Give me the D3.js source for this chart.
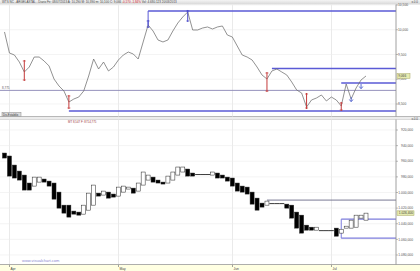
<!DOCTYPE html>
<html>
<head>
<meta charset="utf-8">
<script src="https://cdn.jsdelivr.net/npm/d3@7/dist/d3.min.js"></script>
<style>
  html, body { margin: 0; padding: 0; background: #fff; }
  svg { display: block; font-family: "Liberation Sans", Arial, sans-serif; }
</style>
</head>
<body>
<svg id="chart" width="420" height="271"></svg>
<script>
// ---- data ----
const months = ["Apr", "May", "Jun", "Jul"]
const monthStart = [1, 23, 46, 66]

// upper panel: daily close
const closes = [
  9.955, 9.530, 9.490, 9.348, 9.146, 9.247, 9.449, 9.449, 9.369, 9.268,
  9.005, 8.864, 8.763, 8.540, 8.601, 8.641, 8.763, 9.066, 9.409, 9.207,
  9.348, 9.167, 9.247, 9.389, 9.490, 9.550, 9.510, 9.409, 9.753, 10.096,
  9.975, 9.793, 9.753, 9.793, 9.975, 10.136, 10.258, 10.359, 9.995, 9.995,
  10.035, 10.056, 10.015, 10.056, 10.076, 9.894, 9.854, 9.672, 9.490, 9.449,
  9.389, 9.247, 9.086, 9.005, 9.167, 9.207, 9.146, 9.086, 8.944, 8.783,
  8.722, 8.439, 8.581, 8.621, 8.682, 8.561, 8.641, 8.581, 8.460, 8.904,
  8.601, 8.823, 8.985, 9.066
]
const topTicks = [8.5, 9.0, 9.5, 10.0, 10.5]
// horizontal levels: value, first bar, bracket end value
const topLevels = [
  {v: 10.379, from: 29, to: 10.096},
  {v: 8.359, from: 13, to: null},
  {v: 9.217, from: 54, to: null},
  {v: 8.924, from: 68, to: null}
]
const supportLevel = 8.775
const redMarks = [[4, 9.389, 8.965], [13, 8.682, 8.399], [53, 9.146, 8.742], [61, 8.722, 8.399], [68, 8.540, 8.359]]
const blueMarks = [[29, 10.197, 10.035], [37, 10.399, 10.157]]
const arrowMarks = [[70, 8.581], [72, 8.843]]

// lower panel: open / close
const opens = [
  949.5, 953.3, 964.9, 972.6, 977.7, 987.9, 991.8, 986.7, 982.8, 985.4,
  987.9, 999.5, 1016.2, 1016.2, 1023.8, 1025.1, 1027.7, 1022.6, 1016.2, 1000.8,
  1003.3, 999.5, 1002.0, 1004.6, 999.5, 995.6, 994.4, 998.2, 990.5, 984.1,
  980.3, 984.1, 986.7, 987.9, 984.1, 977.7, 973.8, 970.0, 975.1, 977.0,
  977.0, 977.0, 977.7, 975.1, 977.7, 980.3, 981.5, 987.9, 991.8, 993.1,
  999.5, 1007.2, 1013.6, 1016.2, 1014.2, 1014.2, 1014.2, 1014.9, 1016.2, 1025.1,
  1029.0, 1041.8, 1044.4, 1048.2, 1048.8, 1048.8, 1048.8, 1045.6, 1052.0, 1045.6,
  1045.6, 1044.4, 1032.8, 1035.4
]
const closesLow = [
  955.9, 979.0, 981.5, 984.1, 996.9, 996.9, 980.3, 980.3, 986.7, 991.8,
  1008.5, 1020.0, 1026.4, 1031.5, 1027.7, 1029.0, 1016.2, 1000.8, 990.5, 1004.6,
  998.2, 1007.2, 1005.9, 993.1, 991.8, 993.1, 1000.8, 987.9, 973.8, 977.7,
  986.7, 987.9, 989.2, 979.0, 973.8, 967.4, 967.4, 979.0, 979.0, 977.0,
  977.0, 977.0, 973.8, 981.5, 981.5, 985.4, 991.8, 998.2, 999.5, 1002.0,
  1014.9, 1022.6, 1018.7, 1011.0, 1014.2, 1014.2, 1014.2, 1020.0, 1032.8, 1045.6,
  1052.0, 1048.2, 1048.2, 1044.4, 1048.8, 1048.8, 1048.8, 1055.9, 1047.0, 1043.1,
  1035.4, 1029.0, 1029.0, 1026.4
]
const lowTicks = [920, 940, 960, 980, 1000, 1020, 1040, 1060, 1080]
const lowLevel = {v: 1009.7, from: 53}
const lowBracket = {hi: 1034.1, lo: 1058.5, from: 68}

// ---- layout ----
const svg = d3.select("#chart")
const W = 420, H = 271
const axisX = 396
const es = d3.formatLocale({decimal: ",", thousands: ".", grouping: [3], currency: ["", "€"]})
const fmt = es.format(",.3f")

const x = d3.scaleLinear().domain([0, closes.length - 1]).range([4.5, 366])
const yTop = d3.scaleLinear().domain([8.5, 10.5]).range([104, 5])
const yLow = d3.scaleLinear().domain([920, 1080]).range([130, 255])

// header strip
const grad = svg.append("defs").append("linearGradient").attr("id", "hdr").attr("x1", 0).attr("x2", 0).attr("y1", 0).attr("y2", 1)
grad.append("stop").attr("offset", 0).attr("stop-color", "#f4f4f4")
grad.append("stop").attr("offset", 1).attr("stop-color", "#d6d6d6")
svg.append("rect").attr("x", 0).attr("y", 0).attr("width", W).attr("height", 4.5).attr("fill", "url(#hdr)")
const hdr = svg.append("text").attr("x", 2).attr("y", 3.4).attr("font-size", 3).attr("fill", "#444")
hdr.append("tspan").text("WTS NC - ARGELASTAL - Diario   Fe: 08/07/2013   A: 10,290   M: 10,390   m: 10,100   C: 9,066   ")
hdr.append("tspan").attr("fill", "#d02020").text("-0,170   -1,84%")
hdr.append("tspan").text("   Vol: 4.680.123   20/03/2013")

// panel separators
svg.append("rect").attr("x", 0).attr("y", 116.5).attr("width", W).attr("height", 3).attr("fill", "#ececec")
svg.append("line").attr("x1", 0).attr("x2", W).attr("y1", 116.5).attr("y2", 116.5).attr("stroke", "#a8a8a8").attr("stroke-width", 0.8)
svg.append("line").attr("x1", 0).attr("x2", W).attr("y1", 119.5).attr("y2", 119.5).attr("stroke", "#c8c8c8").attr("stroke-width", 0.6)
;[0.5, 117.3].forEach(yy => {
  svg.append("text").attr("x", 418).attr("y", yy + 2.8).attr("text-anchor", "end")
    .attr("font-size", 3).attr("fill", "#444").text("x.0.0")
})

// x-axis strip
svg.append("rect").attr("x", 0).attr("y", 264.5).attr("width", W).attr("height", 6.5).attr("fill", "#ffffe2")
svg.append("line").attr("x1", 0).attr("x2", W).attr("y1", 264.5).attr("y2", 264.5).attr("stroke", "#999").attr("stroke-width", 0.8)

// month grid + labels
months.forEach((m, k) => {
  const mx = Math.round(x(monthStart[k])) + 0.5
  svg.append("line").attr("x1", mx).attr("x2", mx).attr("y1", 4.5).attr("y2", 116.5).attr("stroke", "#e4e4e4").attr("stroke-width", 0.8)
  svg.append("line").attr("x1", mx).attr("x2", mx).attr("y1", 119.5).attr("y2", 264.5).attr("stroke", "#e4e4e4").attr("stroke-width", 0.8)
  svg.append("line").attr("x1", mx).attr("x2", mx).attr("y1", 264.5).attr("y2", 267).attr("stroke", "#666").attr("stroke-width", 0.6)
  svg.append("text").attr("x", mx + 1).attr("y", 269.8).attr("font-size", 3.3).attr("fill", "#444").text(m)
})

// ---- upper panel ----
const upper = svg.append("g")
topTicks.forEach(t => {
  upper.append("line").attr("x1", 0).attr("x2", axisX).attr("y1", yTop(t)).attr("y2", yTop(t))
    .attr("stroke", "#ececec").attr("stroke-width", 0.6)
  upper.append("line").attr("x1", axisX).attr("x2", axisX + 2).attr("y1", yTop(t)).attr("y2", yTop(t))
    .attr("stroke", "#777").attr("stroke-width", 0.5)
  upper.append("text").attr("x", 398).attr("y", yTop(t) + 1.2).attr("font-size", 3.3).attr("fill", "#555").text(fmt(t))
})

// support line with label
upper.append("line").attr("x1", 0).attr("x2", axisX).attr("y1", yTop(supportLevel)).attr("y2", yTop(supportLevel))
  .attr("stroke", "#8a86b4").attr("stroke-width", 0.9)
upper.append("text").attr("x", 2).attr("y", yTop(supportLevel) - 1.2).attr("font-size", 3).attr("fill", "#555")
  .text(fmt(supportLevel))

// levels
topLevels.forEach(l => {
  upper.append("line").attr("x1", x(l.from)).attr("x2", axisX).attr("y1", yTop(l.v)).attr("y2", yTop(l.v))
    .attr("stroke", "#5a5ad6").attr("stroke-width", 1.4)
  if (l.to !== null) {
    upper.append("line").attr("x1", x(l.from)).attr("x2", x(l.from)).attr("y1", yTop(l.v)).attr("y2", yTop(l.to))
      .attr("stroke", "#5a5ad6").attr("stroke-width", 1)
  }
})

// price line
upper.append("path").datum(closes)
  .attr("d", d3.line().x((d, i) => x(i)).y(d => yTop(d)))
  .attr("fill", "none").attr("stroke", "#6e6e6e").attr("stroke-width", 0.75)

// swing markers
function markers(list, color) {
  list.forEach(([i, hi, lo]) => {
    const mx = x(i)
    upper.append("line").attr("x1", mx).attr("x2", mx).attr("y1", yTop(hi)).attr("y2", yTop(lo))
      .attr("stroke", color).attr("stroke-width", 1)
    upper.append("line").attr("x1", mx - 1.5).attr("x2", mx + 1.5).attr("y1", yTop(hi) + 1).attr("y2", yTop(hi) + 1)
      .attr("stroke", color).attr("stroke-width", 0.7)
    upper.append("line").attr("x1", mx - 1.5).attr("x2", mx + 1.5).attr("y1", yTop(lo) - 1).attr("y2", yTop(lo) - 1)
      .attr("stroke", color).attr("stroke-width", 0.7)
  })
}
markers(redMarks, "#c43a3a")
markers(blueMarks, "#4848c8")

arrowMarks.forEach(([i, v]) => {
  const ax = x(i), ay = yTop(v)
  upper.append("path").attr("d", `M${ax},${ay - 3}L${ax},${ay + 1}M${ax - 1.8},${ay - 0.5}L${ax},${ay + 1.8}L${ax + 1.8},${ay - 0.5}`)
    .attr("fill", "none").attr("stroke", "#5a6ad0").attr("stroke-width", 1)
})

// last value badge
const lastTop = closes[closes.length - 1]
upper.append("rect").attr("x", 397).attr("y", yTop(lastTop) - 2.3).attr("width", 13).attr("height", 4.6)
  .attr("fill", "#e6ebb0").attr("stroke", "#a6a660").attr("stroke-width", 0.5)
upper.append("text").attr("x", 398.2).attr("y", yTop(lastTop) + 1.2).attr("font-size", 3.2).attr("fill", "#444")
  .text(fmt(lastTop))

// bottom-left box
upper.append("rect").attr("x", 2).attr("y", 112.5).attr("width", 19).attr("height", 4).attr("fill", "#dcdcdc").attr("stroke", "#888").attr("stroke-width", 0.5)
upper.append("text").attr("x", 3).attr("y", 115.6).attr("font-size", 2.8).attr("fill", "#333").text("Dis.Estabiliz.")

svg.append("line").attr("x1", axisX).attr("x2", axisX).attr("y1", 4.5).attr("y2", 116.5).attr("stroke", "#888").attr("stroke-width", 0.8)

// ---- lower panel ----
const lower = svg.append("g")
svg.append("text").attr("x", 68).attr("y", 122.6).attr("font-size", 2.9).attr("fill", "#a03c3c")
  .text("MT 8,547  F: 8714,775")

lowTicks.forEach(t => {
  lower.append("line").attr("x1", 0).attr("x2", axisX).attr("y1", yLow(t)).attr("y2", yLow(t))
    .attr("stroke", "#ececec").attr("stroke-width", 0.6)
  lower.append("line").attr("x1", axisX).attr("x2", axisX + 2).attr("y1", yLow(t)).attr("y2", yLow(t))
    .attr("stroke", "#777").attr("stroke-width", 0.5)
  lower.append("text").attr("x", 413).attr("y", yLow(t) + 1.2).attr("text-anchor", "end")
    .attr("font-size", 3.3).attr("fill", "#555").text(fmt(t))
})

lower.append("line").attr("x1", x(lowLevel.from)).attr("x2", axisX).attr("y1", yLow(lowLevel.v)).attr("y2", yLow(lowLevel.v))
  .attr("stroke", "#6a6a88").attr("stroke-width", 0.9)
;[lowBracket.hi, lowBracket.lo].forEach(v => {
  lower.append("line").attr("x1", x(lowBracket.from)).attr("x2", axisX).attr("y1", yLow(v)).attr("y2", yLow(v))
    .attr("stroke", "#7c7cdc").attr("stroke-width", 1.2)
})
lower.append("line").attr("x1", x(lowBracket.from)).attr("x2", x(lowBracket.from))
  .attr("y1", yLow(lowBracket.hi)).attr("y2", yLow(lowBracket.lo)).attr("stroke", "#7c7cdc").attr("stroke-width", 1)

// bars
const bw = 4
opens.forEach((o, i) => {
  const c = closesLow[i]
  const y1 = yLow(Math.min(o, c)), y2 = yLow(Math.max(o, c))
  if (Math.abs(y2 - y1) < 0.8) {
    lower.append("line").attr("x1", x(i) - 2.5).attr("x2", x(i) + 2.5).attr("y1", y1).attr("y2", y1)
      .attr("stroke", "#222").attr("stroke-width", 0.9)
  } else {
    lower.append("rect").attr("x", x(i) - bw / 2).attr("y", y1).attr("width", bw).attr("height", y2 - y1)
      .attr("fill", c > o ? "#000" : "#fff").attr("stroke", "#222").attr("stroke-width", 0.5)
  }
})

// last value badge (lower)
const lastLow = closesLow[closesLow.length - 1]
lower.append("rect").attr("x", 397).attr("y", yLow(lastLow) - 2.3).attr("width", 17).attr("height", 4.6)
  .attr("fill", "#e6ebb0").attr("stroke", "#a6a660").attr("stroke-width", 0.5)
lower.append("text").attr("x", 413).attr("y", yLow(lastLow) + 1.2).attr("text-anchor", "end").attr("font-size", 3.2).attr("fill", "#444")
  .text(fmt(lastLow))

svg.append("text").attr("x", 22).attr("y", 262).attr("font-size", 4).attr("fill", "#8a8ad0").text("www.visualchart.com")
svg.append("line").attr("x1", axisX).attr("x2", axisX).attr("y1", 119.5).attr("y2", 264.5).attr("stroke", "#888").attr("stroke-width", 0.8)
</script>
</body>
</html>
